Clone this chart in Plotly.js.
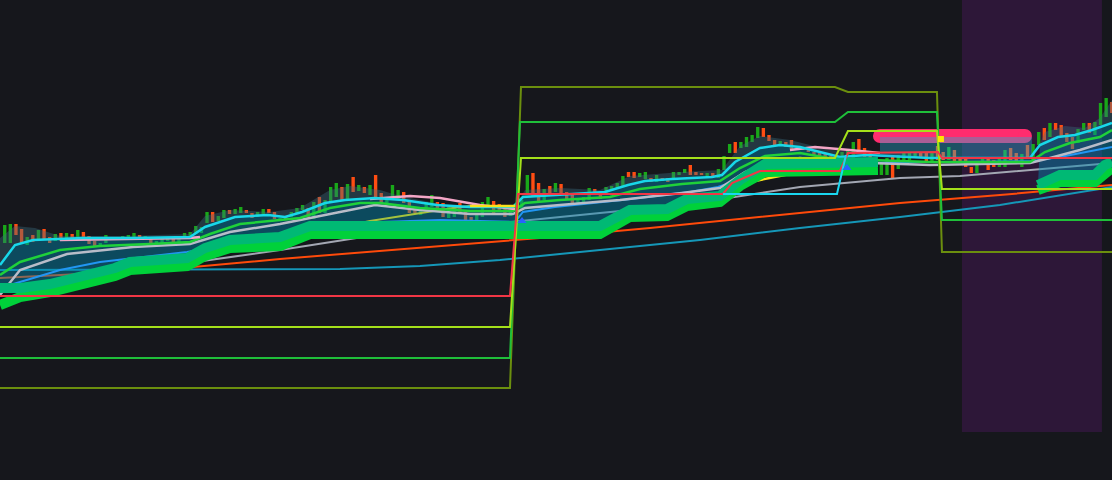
<!DOCTYPE html>
<html><head><meta charset="utf-8">
<script src="https://cdn.plot.ly/plotly-3.0.1.min.js"></script>
<style>html,body{margin:0;padding:0;background:#16171c;overflow:hidden}#chart{width:1112px;height:480px}</style>
</head><body><div id="chart"></div>
<script>
// ---------- candles (bar index, price) ----------
const openP = [
257,257,276,271,255,265,259,271,263,259,
267,259,266,261,268,264,259,253,257,261,
261,262,262,263,265,261,263,256,257,259,
261,256,261,263,266,267,277,288,279,282,
290,286,287,290,287,283,286,291,288,280,
284,283,287,290,292,281,303,287,298,303,
313,301,323,309,313,305,325,307,297,303,
301,308,300,293,285,292,293,298,297,282,
283,297,288,283,272,283,294,299,296,292,
284,290,290,305,327,317,300,314,308,316,
308,305,297,297,300,311,307,305,309,312,
313,328,328,323,321,322,318,322,322,321,
325,327,335,328,327,323,327,322,330,347,
358,352,353,358,362,372,365,360,355,358,
360,354,353,352,348,347,346,344,339,342,
344,342,361,352,347,341,325,325,343,331,
338,340,343,348,348,338,354,348,340,350,
343,341,333,327,335,342,340,333,333,352,
347,333,355,338,355,372,363,377,375,367,
363,357,370,377,365,375,383,398];
const closeP = [
275,276,265,257,263,258,270,261,257,266,
259,267,259,270,260,256,253,257,265,263,
263,264,265,267,261,264,257,259,261,261,
256,264,267,268,274,273,288,278,284,290,
286,291,293,287,282,288,291,287,281,282,
281,288,292,295,283,298,287,300,313,317,
299,316,308,315,307,315,303,297,303,315,
310,297,287,287,292,298,305,288,283,293,
295,287,275,269,287,298,303,287,288,283,
293,294,300,325,303,298,311,307,317,307,
300,295,302,303,312,306,301,313,314,317,
324,323,322,327,328,318,325,319,318,328,
328,331,325,325,325,327,323,331,344,356,
347,358,363,365,373,363,359,355,359,353,
351,351,350,348,344,343,342,339,343,348,
350,358,347,343,335,333,338,342,322,345,
347,348,347,342,338,349,340,340,353,339,
338,333,327,338,342,330,333,343,350,340,
336,346,343,356,368,360,377,370,364,358,
351,371,377,367,378,397,402,387];

// ---------- pivot step levels ----------
const pivRedX   = [-0.84, 89.91, 91.33, 127.81, 129.41, 134.40, 148.63, 150.05, 166.07, 166.78, 197.04];
const pivRedY   = [204, 204, 306, 306, 317, 329, 329, 347, 348, 342, 342];
const pivLimeX  = [-0.84, 89.91, 91.87, 147.74, 150.05, 165.89, 166.78, 197.04];
const pivLimeY  = [173, 173, 342, 342, 369, 369, 311, 311];
const pivGreenX = [-0.84, 89.91, 91.69, 147.74, 150.05, 165.89, 166.78, 197.04];
const pivGreenY = [142, 142, 378, 378, 388, 388, 280, 280];
const pivOliveX = [-0.84, 89.91, 91.87, 147.74, 150.05, 165.89, 166.78, 197.04];
const pivOliveY = [112, 112, 413, 413, 408, 408, 248, 248];
const pivCyanX  = [127.81, 148.10, 149.70];
const pivCyanY  = [306, 306, 345];

// ---------- band lines ----------
const cyanX = [-0.84,1.83,5.04,13.93,22.83,32.97,35.64,40.98,46.85,49.88,52.90,57.00,60.55,65.89,70.87,76.92,82.80,90.44,92.22,98.81,106.81,110.91,113.93,118.74,125.86,127.63,129.95,134.40,137.95,141.51,145.07,148.63,153.43,164.64,182.44,184.22,187.42,190.44,193.47,197.04];
const cyanY = [235,255,260,262,262,263,273,283,285,283,288,297,300,302,300,295,293,293,303,305,308,315,319,321,323,325,338,352,355,353,348,343,345,342,342,355,363,365,370,377];
const greenX = [-0.84,2.72,9.84,16.96,25.85,32.97,36.53,41.87,48.99,52.54,57.88,63.22,66.78,73.90,82.80,90.44,92.58,98.81,107.70,113.04,120.52,127.28,130.84,135.29,141.51,148.63,153.97,164.64,182.44,185.11,189.56,194.89,197.04];
const greenY = [225,238,250,254,256,258,266,276,280,282,292,297,297,292,289,289,297,300,303,311,316,319,332,344,347,340,340,338,338,348,357,363,370];
const grayX = [-0.84,2.72,11.09,22.83,32.97,40.09,48.99,57.88,65.89,73.90,82.80,90.44,92.58,98.81,109.48,120.52,127.28,131.73,136.18,141.51,148.63,164.64,182.44,186.00,191.33,197.04];
const grayY = [205,230,246,253,256,268,276,286,295,290,286,286,292,295,300,307,312,328,338,342,338,335,337,342,350,360];
const blueX = [-0.84,0.94,9.84,16.96,32.44,43.65,57.88,66.78,77.46,90.80,92.22,97.92,109.84,121.94,126.92,131.73,141.51,150.41,164.64,182.79,187.78,197.04];
const blueY = [210,215,230,238,248,259,272,278,280,278,288,293,300,308,313,322,332,337,338,339,343,353];
const pinkX = [9.84,32.97,34.75,null,65.00,72.12,77.46,84.57,90.80,null,139.73,144.18,150.41,155.75];
const pinkY = [260,262,263,null,301,304,302,295,291,null,350,353,350,347];
const khakiX = [52.54,65.00,79.77,82.80];
const khakiY = [264,279,292,294];
const yellowX = [82.80,91.16,null,128.17,131.73,139.73,141.51];
const yellowY = [294,294,null,310,317,326,327];
const cloudX = [-0.84,1.83,5.39,9.84,20.52,32.97,35.64,40.09,47.21,52.54,57.88,61.44,66.78,70.34,77.46,82.80,90.80,92.58,98.81,105.92,111.26,120.52,127.63,130.84,134.40,139.73,146.86,153.97,null,183.33,185.11,188.67,192.22,194.89,197.04];
const cloudY = [262,274,272,264,264,266,284,290,288,292,310,314,310,304,296,292,294,310,312,310,324,328,330,354,364,360,350,348,null,345,368,374,372,382,400];

// ---------- slow averages ----------
const orangeX = [-0.84,9.84,27.63,48.99,70.34,95.25,114.82,141.51,159.31,177.10,197.04];
const orangeY = [222,225,230,241,251,262,272,287,297,305,315];
const tealX = [-0.84,59.66,73.90,88.13,105.92,123.72,141.51,159.31,177.10,197.04];
const tealY = [230,231,234,240,250,260,272,283,295,313];
const slowGrayX = [-0.84,13.40,27.63,48.99,63.75,79.24,91.69,105.92,120.52,141.51,159.31,169.98,197.04];
const slowGrayY = [208,222,233,250,263,272,279,287,295,313,322,324,337];

// ---------- trailing ribbon ----------
const ribUpX = [-0.84,2.72,8.06,16.96,19.63,22.29,32.44,35.64,40.09,48.99,51.66,54.32,105.92,108.59,111.26,117.85,121.41,127.28,130.84,135.29,155.39,null,183.86,187.78,194.00,195.78,197.04];
const ribUpY = [212,212,216,227,232,238,242,252,260,263,268,274,274,282,290,291,301,304,320,336,338,null,315,325,325,335,338];
const ribLoX = [-0.84,2.72,8.06,16.96,19.63,22.29,32.44,35.64,40.09,48.99,51.66,54.32,105.92,108.59,111.26,117.85,121.41,127.28,130.84,135.29,155.39,null,183.86,187.78,194.00,195.78,197.04];
const ribLoY = [195,203,208,219,224,230,234,244,252,254,260,266,266,274,283,284,294,298,314,328,330,null,310,318,318,328,332];

// ---------- zone / session ----------
const pinkBarX = [155.75, 181.55];
const pinkBarY = [364, 364];
const zoneX = [155.75, 182.79];
const zoneLow = 343, zoneHigh = 363;
const sessionX = [170.34, 195.25];
const sessionLow = 68, sessionHigh = 500;
const signalUpX = [92.05, 149.88], signalUpY = [279, 332];
const signalDnX = [166.60], signalDnY = [361];

// ---------- helpers ----------
const idx = openP.map((_, i) => i);
function seg(xs, ys, lo, hi) {
  const o = {x: [], y: []};
  xs.forEach((v, k) => { if (v !== null && v >= lo && v <= hi) { o.x.push(v); o.y.push(ys[k]); } });
  return o;
}
function poly(top, bot) {
  return {x: top.x.concat(bot.x.slice().reverse()), y: top.y.concat(bot.y.slice().reverse())};
}
function line(x, y, color, width, extra) {
  return Object.assign({type: 'scatter', mode: 'lines', x: x, y: y, line: {color: color, width: width}, hoverinfo: 'skip', connectgaps: false}, extra || {});
}
function area(p, color) {
  return {type: 'scatter', mode: 'lines', x: p.x, y: p.y, fill: 'toself', fillcolor: color, line: {width: 0}, hoverinfo: 'skip'};
}

const traces = [];
// slow averages
traces.push(line(orangeX, orangeY, '#ff4a0a', 2));
traces.push(line(tealX, tealY, '#1597b8', 2));
traces.push(line(slowGrayX, slowGrayY, '#a3a7b3', 2));
// teal band fill
traces.push(area(poly(seg(cyanX, cyanY, -1, 155.4), seg(ribUpX, ribUpY, -1, 155.4)), 'rgba(0,138,176,0.45)'));
traces.push(area(poly(seg(cyanX, cyanY, 183.8, 198), seg(ribUpX, ribUpY, 183.8, 198)), 'rgba(0,138,176,0.45)'));
// cloud fill
traces.push(area(poly(seg(cloudX, cloudY, -1, 155), seg(cyanX, cyanY, -1, 154)), 'rgba(60,110,130,0.38)'));
traces.push(area(poly(seg(cloudX, cloudY, 183, 198), seg(cyanX, cyanY, 183, 198)), 'rgba(60,110,130,0.38)'));
// band lines
traces.push(line(khakiX, khakiY, '#a4c23e', 2));
traces.push(line(blueX, blueY, '#2196f3', 2));
traces.push(line(grayX, grayY, '#b8bcc8', 2.5));
traces.push(line(greenX, greenY, '#1fd13a', 2.5));
traces.push(line(pinkX, pinkY, '#f4a6c6', 2.5));
traces.push(line(cyanX, cyanY, '#18d8ea', 2.5));
traces.push(line(yellowX, yellowY, '#f7e11b', 2.5));
// ribbon
traces.push(line(ribLoX, ribLoY, '#00d13a', 10));
traces.push(line(ribUpX, ribUpY, '#00b974', 10));
// pink bar + zone
traces.push(line(pinkBarX, pinkBarY, '#ff2c6e', 14, {mode: 'lines+markers', marker: {size: 14, color: '#ff2c6e'}}));
traces.push(area({x: [zoneX[0], zoneX[1], zoneX[1], zoneX[0]], y: [zoneLow, zoneLow, zoneHigh, zoneHigh]}, 'rgba(40,170,210,0.4)'));
// candles
traces.push({type: 'bar', x: idx, base: openP, y: closeP.map((c, i) => c - openP[i]), width: 0.6, opacity: 1,
  marker: {color: closeP.map((c, i) => c >= openP[i] ? '#19a819' : '#ff4d12'), opacity: 1, line: {width: 0}}, hoverinfo: 'skip'});
// pivots
traces.push(line(pivOliveX, pivOliveY, '#6b8f0e', 2));
traces.push(line(pivGreenX, pivGreenY, '#1fbf3a', 2));
traces.push(line(pivLimeX, pivLimeY, '#a4e01a', 2));
traces.push(line(pivRedX, pivRedY, '#f23645', 2));
traces.push(line(pivCyanX, pivCyanY, '#1ad7f0', 2));
// signals
traces.push({type: 'scatter', mode: 'markers', x: signalUpX, y: signalUpY, marker: {symbol: 'triangle-up', size: 8, color: '#2962ff'}, hoverinfo: 'skip'});
traces.push({type: 'scatter', mode: 'markers', x: signalDnX, y: signalDnY, marker: {symbol: 'square', size: 6, color: '#ffe600'}, hoverinfo: 'skip'});

const layout = {
  width: 1112, height: 480,
  margin: {l: 0, r: 0, t: 0, b: 0},
  paper_bgcolor: '#16171c', plot_bgcolor: '#16171c',
  showlegend: false, barmode: 'overlay',
  xaxis: {range: [-0.84, 197.04], visible: false, fixedrange: true},
  yaxis: {range: [20, 500], visible: false, fixedrange: true},
  shapes: [{type: 'rect', layer: 'below', xref: 'x', yref: 'y', x0: sessionX[0], x1: sessionX[1], y0: sessionLow, y1: sessionHigh,
    fillcolor: '#2d1738', line: {width: 0}}]
};
Plotly.newPlot('chart', traces, layout, {staticPlot: true, displayModeBar: false});
</script></body></html>
